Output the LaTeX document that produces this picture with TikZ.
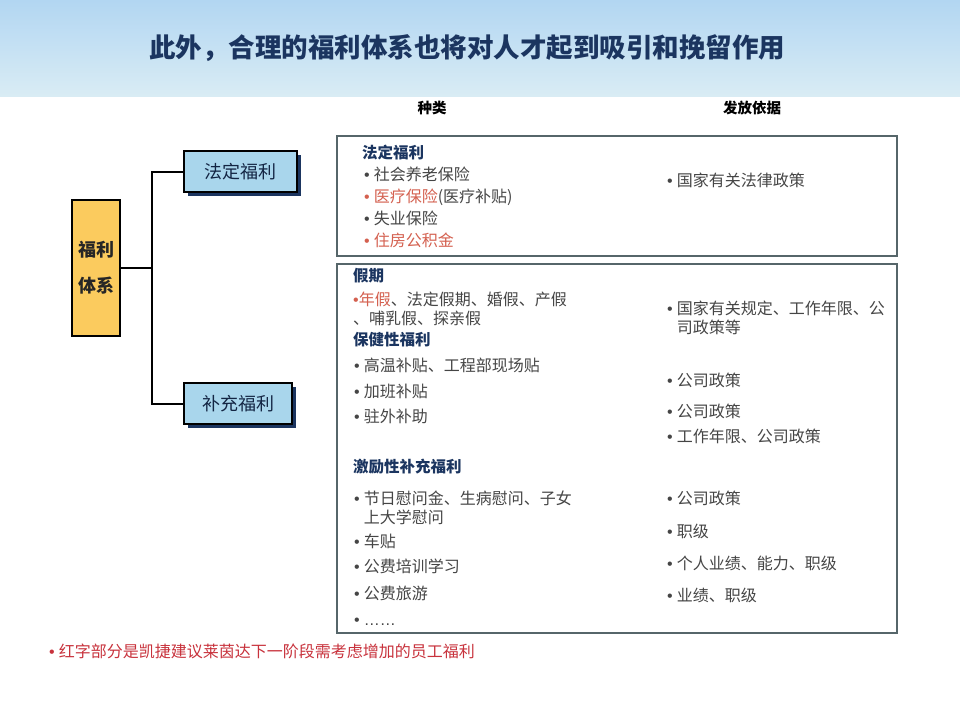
\documentclass[tikz,border=0pt]{standalone}
\usepackage{fontspec}
\setmainfont{Noto Sans CJK SC}
\newfontfamily\latinf{Liberation Sans}
\usetikzlibrary{shadows}
\definecolor{navy}{HTML}{1B3560}
\definecolor{bodygray}{HTML}{454545}
\definecolor{framegray}{HTML}{56666A}
\definecolor{catblue}{HTML}{A9D6EC}
\definecolor{rootyellow}{HTML}{FBCB5E}
\definecolor{softred}{HTML}{D4604F}
\definecolor{noteRed}{HTML}{C8323C}
\definecolor{skytop}{HTML}{B2D6F2}
\definecolor{skybot}{HTML}{D9ECF4}
\newcommand\dotmark{{\latinf •}}
\newcommand\bul{\dotmark\hspace{4pt}}
\newcommand\rbul{\textcolor{softred}{\dotmark}\hspace{4pt}}
\newcommand\two[2]{\begin{tabular}[t]{@{}l@{}}#1\\#2\end{tabular}}
\tikzset{
  txt/.style={anchor=base west, inner sep=0pt, font=\fontsize{16}{17.5}\selectfont, text=bodygray},
  headtxt/.style={anchor=base west, inner sep=0pt, font=\fontsize{15.5}{18}\selectfont\bfseries, text=navy},
  coltxt/.style={anchor=base, inner sep=0pt, font=\fontsize{14.5}{17}\selectfont\bfseries, text=black},
  frame/.style={draw=framegray, line width=1.5pt, anchor=north west, inner sep=0pt},
  catbox/.style={draw=black, line width=2pt, fill=catblue, inner sep=0pt,
     font=\fontsize{18}{20}\selectfont, text=navy!70!black,
     drop shadow={shadow xshift=3.5pt, shadow yshift=-3.5pt, fill=navy, opacity=1}},
  rootbox/.style={draw=black, line width=2pt, fill=rootyellow, inner sep=0pt, align=center,
     font=\fontsize{18}{36}\selectfont\bfseries, text=black!85},
  link/.style={draw=black, line width=2pt}
}
\begin{document}
\begin{tikzpicture}[x=1pt,y=-1pt]
\useasboundingbox (0,0) rectangle (960,720);
\fill[white] (0,0) rectangle (960,720);
\shade[top color=skytop, bottom color=skybot] (0,0) rectangle (960,96);
\node[anchor=base, inner sep=0pt, font=\fontsize{26.5}{29}\selectfont\bfseries, text=navy] (title) at (467,57)
  {此外，合理的福利体系也将对人才起到吸引和挽留作用};
\node[coltxt] (colA) at (432,113) {种类};
\node[coltxt] (colB) at (752,113) {发放依据};

% frames
\node[frame, minimum width=560pt, minimum height=120pt] (box1) at (336,135) {};
\node[frame, minimum width=560pt, minimum height=369pt] (box2) at (336,263) {};

% left tree
\node[rootbox, minimum width=48pt, minimum height=136pt] (root) at (96,268) {福利\\体系};
\node[catbox, minimum width=113pt, minimum height=41pt] (fd) at (240.5,171.5) {法定福利};
\node[catbox, minimum width=108pt, minimum height=41pt] (bc) at (238,403.5) {补充福利};
\coordinate (jn) at (152,268);
\draw[link] (root.east) -- (jn);
\draw[link] (fd.west) -| (jn);
\draw[link] (bc.west) -| (jn);

% box 1
\node[headtxt] (h1) at (362,158.5) {法定福利};
\node[txt] (a1) at (364,180.5) {\bul 社会养老保险};
\node[txt] (a2) at (364,202.5) {\rbul\textcolor{softred}{医疗保险}(医疗补贴)};
\node[txt] (a3) at (364,224.5) {\bul 失业保险};
\node[txt] (a4) at (364,246.5) {\rbul\textcolor{softred}{住房公积金}};
\node[txt] (r1) at (667,186.5) {\bul 国家有关法律政策};

% box 2
\node[headtxt] (h2) at (353,281.5) {假期};
\node[txt] (b1) at (353,305.5) {\two{\textcolor{softred}{\dotmark 年假}、法定假期、婚假、产假}{、哺乳假、探亲假}};
\node[headtxt] (h3) at (353,345.5) {保健性福利};
\node[txt] (b2) at (354,371.5) {\bul 高温补贴、工程部现场贴};
\node[txt] (b3) at (354,397.5) {\bul 加班补贴};
\node[txt] (b4) at (354,422.5) {\bul 驻外补助};
\node[txt] (r2) at (667,314.5) {\bul\two{国家有关规定、工作年限、公}{司政策等}};
\node[txt] (r3) at (667,386.5) {\bul 公司政策};
\node[txt] (r4) at (667,417.5) {\bul 公司政策};
\node[txt] (r5) at (667,442.5) {\bul 工作年限、公司政策};

\node[headtxt] (h4) at (353,472.5) {激励性补充福利};
\node[txt] (c1) at (354,504.5) {\bul\two{节日慰问金、生病慰问、子女}{上大学慰问}};
\node[txt] (c2) at (354,547.5) {\bul 车贴};
\node[txt] (c3) at (354,572.5) {\bul 公费培训学习};
\node[txt] (c4) at (354,599.5) {\bul 公费旅游};
\node[txt] (c5) at (354,625.5) {\bul {\latinf ……}};
\node[txt] (r6) at (667,504.5) {\bul 公司政策};
\node[txt] (r7) at (667,537.5) {\bul 职级};
\node[txt] (r8) at (667,569.5) {\bul 个人业绩、能力、职级};
\node[txt] (r9) at (667,601.5) {\bul 业绩、职级};

% footnote
\node[txt, text=noteRed, font=\fontsize{16}{18}\selectfont] (note) at (49,657.5)
  {\dotmark\hspace{4pt}红字部分是凯捷建议莱茵达下一阶段需考虑增加的员工福利};
\end{tikzpicture}
\end{document}
